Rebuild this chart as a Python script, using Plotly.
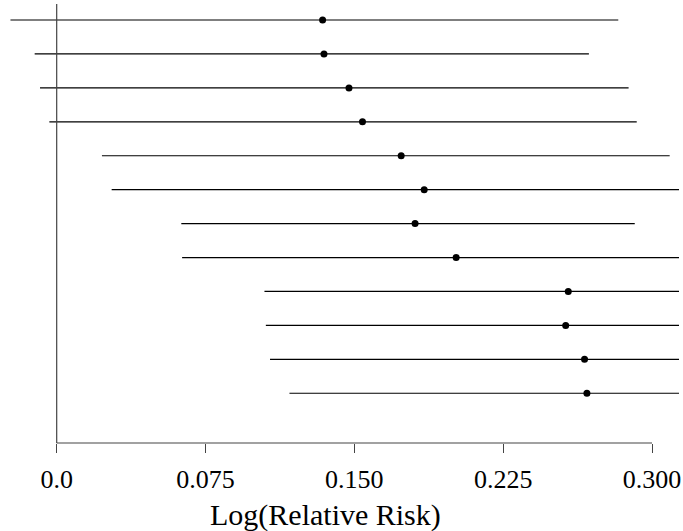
import plotly.graph_objects as go

# Data (rows listed top to bottom)
row_pos = [12, 11, 10, 9, 8, 7, 6, 5, 4, 3, 2, 1]
estimate = [0.1340, 0.1347, 0.1473, 0.1541, 0.1736, 0.1852, 0.1806, 0.2013, 0.2578, 0.2565, 0.2660, 0.2672]
lower = [-0.0233, -0.0111, -0.0084, -0.0037, 0.0228, 0.0277, 0.0628, 0.0632, 0.1047, 0.1054, 0.1075, 0.1173]
upper = [0.2830, 0.2682, 0.2882, 0.2923, 0.3089, 0.3300, 0.2913, 0.3400, 0.3900, 0.3900, 0.3950, 0.3950]
tick_vals = [0.0, 0.075, 0.150, 0.225, 0.300]
tick_text = ["0.0", "0.075", "0.150", "0.225", "0.300"]
x_title = "Log(Relative Risk)"

FONT = "Liberation Serif"

seg_x, seg_y = [], []
for lo, hi, y in zip(lower, upper, row_pos):
    seg_x += [lo, hi, None]
    seg_y += [y, y, None]

fig = go.Figure()
fig.add_trace(go.Scatter(x=seg_x, y=seg_y, mode="lines",
                         line=dict(color="black", width=1.2),
                         hoverinfo="skip", showlegend=False))
fig.add_trace(go.Scatter(x=estimate, y=row_pos, mode="markers",
                         marker=dict(color="black", size=7),
                         showlegend=False))

# reference line at zero and the bottom axis line spanning the ticks
fig.add_shape(type="line", xref="x", yref="paper", x0=0, x1=0, y0=0, y1=1,
              line=dict(color="#444", width=1.2))
fig.add_shape(type="line", xref="x", yref="paper", x0=tick_vals[0], x1=tick_vals[-1],
              y0=0, y1=0, line=dict(color="#444", width=1.2))

fig.add_annotation(text=x_title, xref="paper", yref="paper", x=0.4755, y=0,
                   xanchor="center", yanchor="middle", yshift=-72, showarrow=False,
                   font=dict(family=FONT, size=30, color="black"))

fig.update_layout(
    width=683, height=531,
    margin=dict(l=5, r=4, t=4, b=88),
    paper_bgcolor="white", plot_bgcolor="white",
    font=dict(family=FONT, color="black"),
    xaxis=dict(range=[-0.02605, 0.3136], showgrid=False, zeroline=False,
               showline=False, ticks="outside", ticklen=9, tickwidth=1.2,
               tickcolor="#444", tickvals=tick_vals, ticktext=tick_text,
               ticklabelstandoff=4, automargin=False,
               tickfont=dict(family=FONT, size=26, color="black")),
    yaxis=dict(range=[-0.466, 12.472], visible=False),
)

fig.write_html("out.html", config={"displayModeBar": False},
               post_script="document.body.style.margin='0';")
